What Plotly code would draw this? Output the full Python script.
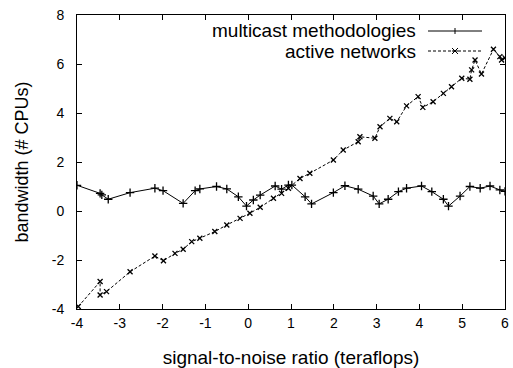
import plotly.graph_objects as go

# series 1: multicast methodologies
s1_x = [-4.0, -3.46, -3.42, -3.27, -2.76, -2.18, -1.99, -1.52, -1.24, -1.13, -0.74, -0.5, -0.23, -0.04, 0.12, 0.28, 0.63, 0.78, 0.94, 1.02, 1.33, 1.48, 1.99, 2.26, 2.57, 2.92, 3.06, 3.27, 3.51, 3.70, 4.05, 4.29, 4.56, 4.68, 4.95, 5.18, 5.42, 5.65, 5.88, 6.0]
s1_y = [1.05, 0.72, 0.66, 0.48, 0.75, 0.93, 0.83, 0.31, 0.83, 0.9, 1.0, 0.9, 0.58, 0.2, 0.45, 0.65, 1.02, 0.89, 1.06, 1.06, 0.58, 0.29, 0.75, 1.03, 0.89, 0.61, 0.29, 0.48, 0.79, 0.93, 1.02, 0.79, 0.48, 0.2, 0.61, 1.0, 0.93, 1.02, 0.86, 0.8]

# series 2: active networks
s2_x = [-3.97, -3.46, -3.46, -3.31, -2.76, -2.18, -1.98, -1.71, -1.52, -1.32, -1.13, -0.78, -0.5, -0.19, 0.04, 0.28, 0.59, 0.78, 0.94, 1.21, 1.44, 1.99, 2.22, 2.57, 2.61, 2.96, 3.08, 3.31, 3.47, 3.70, 3.97, 4.08, 4.32, 4.56, 4.75, 4.99, 5.18, 5.22, 5.30, 5.45, 5.73, 5.88, 5.92, 6.0]
s2_y = [-3.9, -2.88, -3.43, -3.29, -2.48, -1.84, -2.03, -1.73, -1.56, -1.25, -1.11, -0.84, -0.57, -0.3, -0.09, 0.15, 0.52, 0.72, 0.93, 1.33, 1.54, 2.08, 2.49, 2.83, 3.03, 2.97, 3.44, 3.78, 3.64, 4.29, 4.67, 4.23, 4.46, 4.8, 5.07, 5.42, 5.38, 5.76, 6.16, 5.59, 6.6, 6.3, 6.16, 6.25]

series_names = ["multicast methodologies", "active networks"]
x_ticks = [-4, -3, -2, -1, 0, 1, 2, 3, 4, 5, 6]
y_ticks = [-4, -2, 0, 2, 4, 6, 8]

FONT = "Liberation Sans, Arial, sans-serif"

fig = go.Figure()
fig.add_trace(go.Scatter(
    x=s1_x, y=s1_y, mode="lines+markers", name=series_names[0],
    line=dict(color="black", width=1),
    marker=dict(symbol="cross-thin", size=6, line=dict(color="black", width=1.3)),
    showlegend=False))
fig.add_trace(go.Scatter(
    x=s2_x, y=s2_y, mode="lines+markers", name=series_names[1],
    line=dict(color="black", width=1, dash="3px,2px"),
    marker=dict(symbol="x-thin", size=5, line=dict(color="black", width=1.3)),
    showlegend=False))

# legend drawn gnuplot-style (text left, sample right)
L, R, T, B = 77, 505, 15, 309
W, H = R - L, B - T
def px(xp):
    return (xp - L) / W
def py(yp):
    return (B - yp) / H

leg_rows = [31, 51]
for i, name in enumerate(series_names):
    yy = py(leg_rows[i])
    fig.add_annotation(x=px(418), y=yy, xref="paper", yref="paper", text=name,
                       showarrow=False, xanchor="right", yanchor="middle",
                       font=dict(family=FONT, size=19, color="black"))
    fig.add_shape(type="line", xref="paper", yref="paper",
                  x0=px(428), x1=px(482), y0=yy, y1=yy,
                  line=dict(color="black", width=1, dash="solid" if i == 0 else "3px,2px"))
    # marker in the middle of the sample
    cx, cy = 455, leg_rows[i]
    if i == 0:
        fig.add_shape(type="line", xref="paper", yref="paper", x0=px(cx), x1=px(cx),
                      y0=py(cy - 3), y1=py(cy + 3), line=dict(color="black", width=1))
    else:
        for d in (1, -1):
            fig.add_shape(type="line", xref="paper", yref="paper", x0=px(cx - 3), x1=px(cx + 3),
                          y0=py(cy - 3 * d), y1=py(cy + 3 * d), line=dict(color="black", width=1))
        fig.add_shape(type="line", xref="paper", yref="paper", x0=px(cx - 3), x1=px(cx + 3),
                      y0=py(cy), y1=py(cy), line=dict(color="black", width=1))

axis_common = dict(showgrid=False, zeroline=False, showline=True, linecolor="black",
                   linewidth=1, mirror="allticks", ticks="inside", ticklen=5,
                   tickcolor="black", tickwidth=1,
                   tickfont=dict(family=FONT, size=14, color="black"))

fig.update_xaxes(range=[-4, 6], tickvals=x_ticks, ticktext=[str(v) for v in x_ticks],
                 title=dict(text="signal-to-noise ratio (teraflops)", standoff=22,
                            font=dict(family=FONT, size=19, color="black")),
                 ticklabelstandoff=1, **axis_common)
fig.update_yaxes(range=[-4, 8], tickvals=y_ticks, ticktext=[str(v) for v in y_ticks],
                 title=dict(text="bandwidth (# CPUs)", standoff=18,
                            font=dict(family=FONT, size=18, color="black")),
                 ticklabelstandoff=9, **axis_common)

fig.update_layout(width=513, height=368, paper_bgcolor="white", plot_bgcolor="white",
                  margin=dict(l=L, r=513 - R, t=T, b=368 - B, autoexpand=False),
                  showlegend=False)

fig.write_html("out.html")
